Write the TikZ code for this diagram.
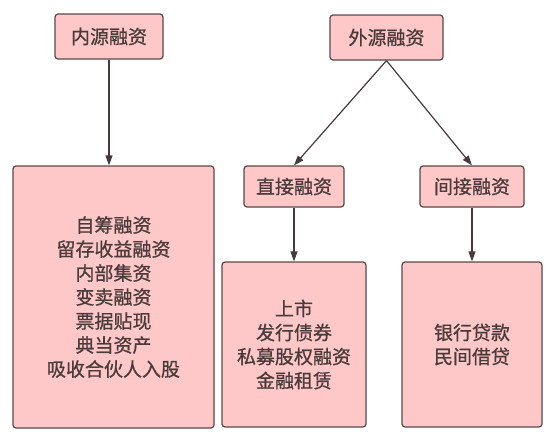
\documentclass[tikz,border=0pt]{standalone}
\usepackage{fontspec}
\newfontfamily\cjk[FakeBold=0.8]{Noto Sans CJK SC}
\usetikzlibrary{arrows.meta, positioning}
\definecolor{boxfill}{HTML}{FFC8C8}
\definecolor{boxline}{HTML}{5A4848}
\definecolor{boxtext}{HTML}{4A3C3C}

\begin{document}
\begin{tikzpicture}[
    x=1pt, y=-1pt,
    box/.style={rectangle, rounded corners=3pt, draw=boxline, line width=1.2pt, fill=boxfill, align=center, text=boxtext, inner sep=0pt, font=\cjk\fontsize{19}{24}\selectfont},
    link/.style={-{Triangle[length=10pt, width=7pt]}, line width=1.2pt, draw=boxline!80!black}
]
    \useasboundingbox (0,0) rectangle (558,439);

    \node[box, minimum width=108pt, minimum height=45pt] (inner) at (109,36.5) {内源融资};
    \node[box, minimum width=113pt, minimum height=45pt] (outer) at (386.5,37.5) {外源融资};
    \node[box, minimum width=100pt, minimum height=41pt] (direct) at (294,186.5) {直接融资};
    \node[box, minimum width=104pt, minimum height=41pt] (indirect) at (472,186.5) {间接融资};
    \node[box, minimum width=201pt, minimum height=262pt] (innerlist) at (113.5,297) {自筹融资\\ 留存收益融资\\ 内部集资\\ 变卖融资\\ 票据贴现\\ 典当资产\\ 吸收合伙人入股};
    \node[box, minimum width=144pt, minimum height=165pt] (directlist) at (294,344.5) {上市\\ 发行债券\\ 私募股权融资\\ 金融租赁};
    \node[box, minimum width=140pt, minimum height=165pt] (indirectlist) at (472,344.5) {银行贷款\\ 民间借贷};

    \draw[link] (inner) -- (inner |- innerlist.north);
    \draw[link] (outer.south) -- (direct.north);
    \draw[link] (outer.south) -- (indirect.north);
    \draw[link] (direct) -- (directlist);
    \draw[link] (indirect) -- (indirectlist);
\end{tikzpicture}
\end{document}
